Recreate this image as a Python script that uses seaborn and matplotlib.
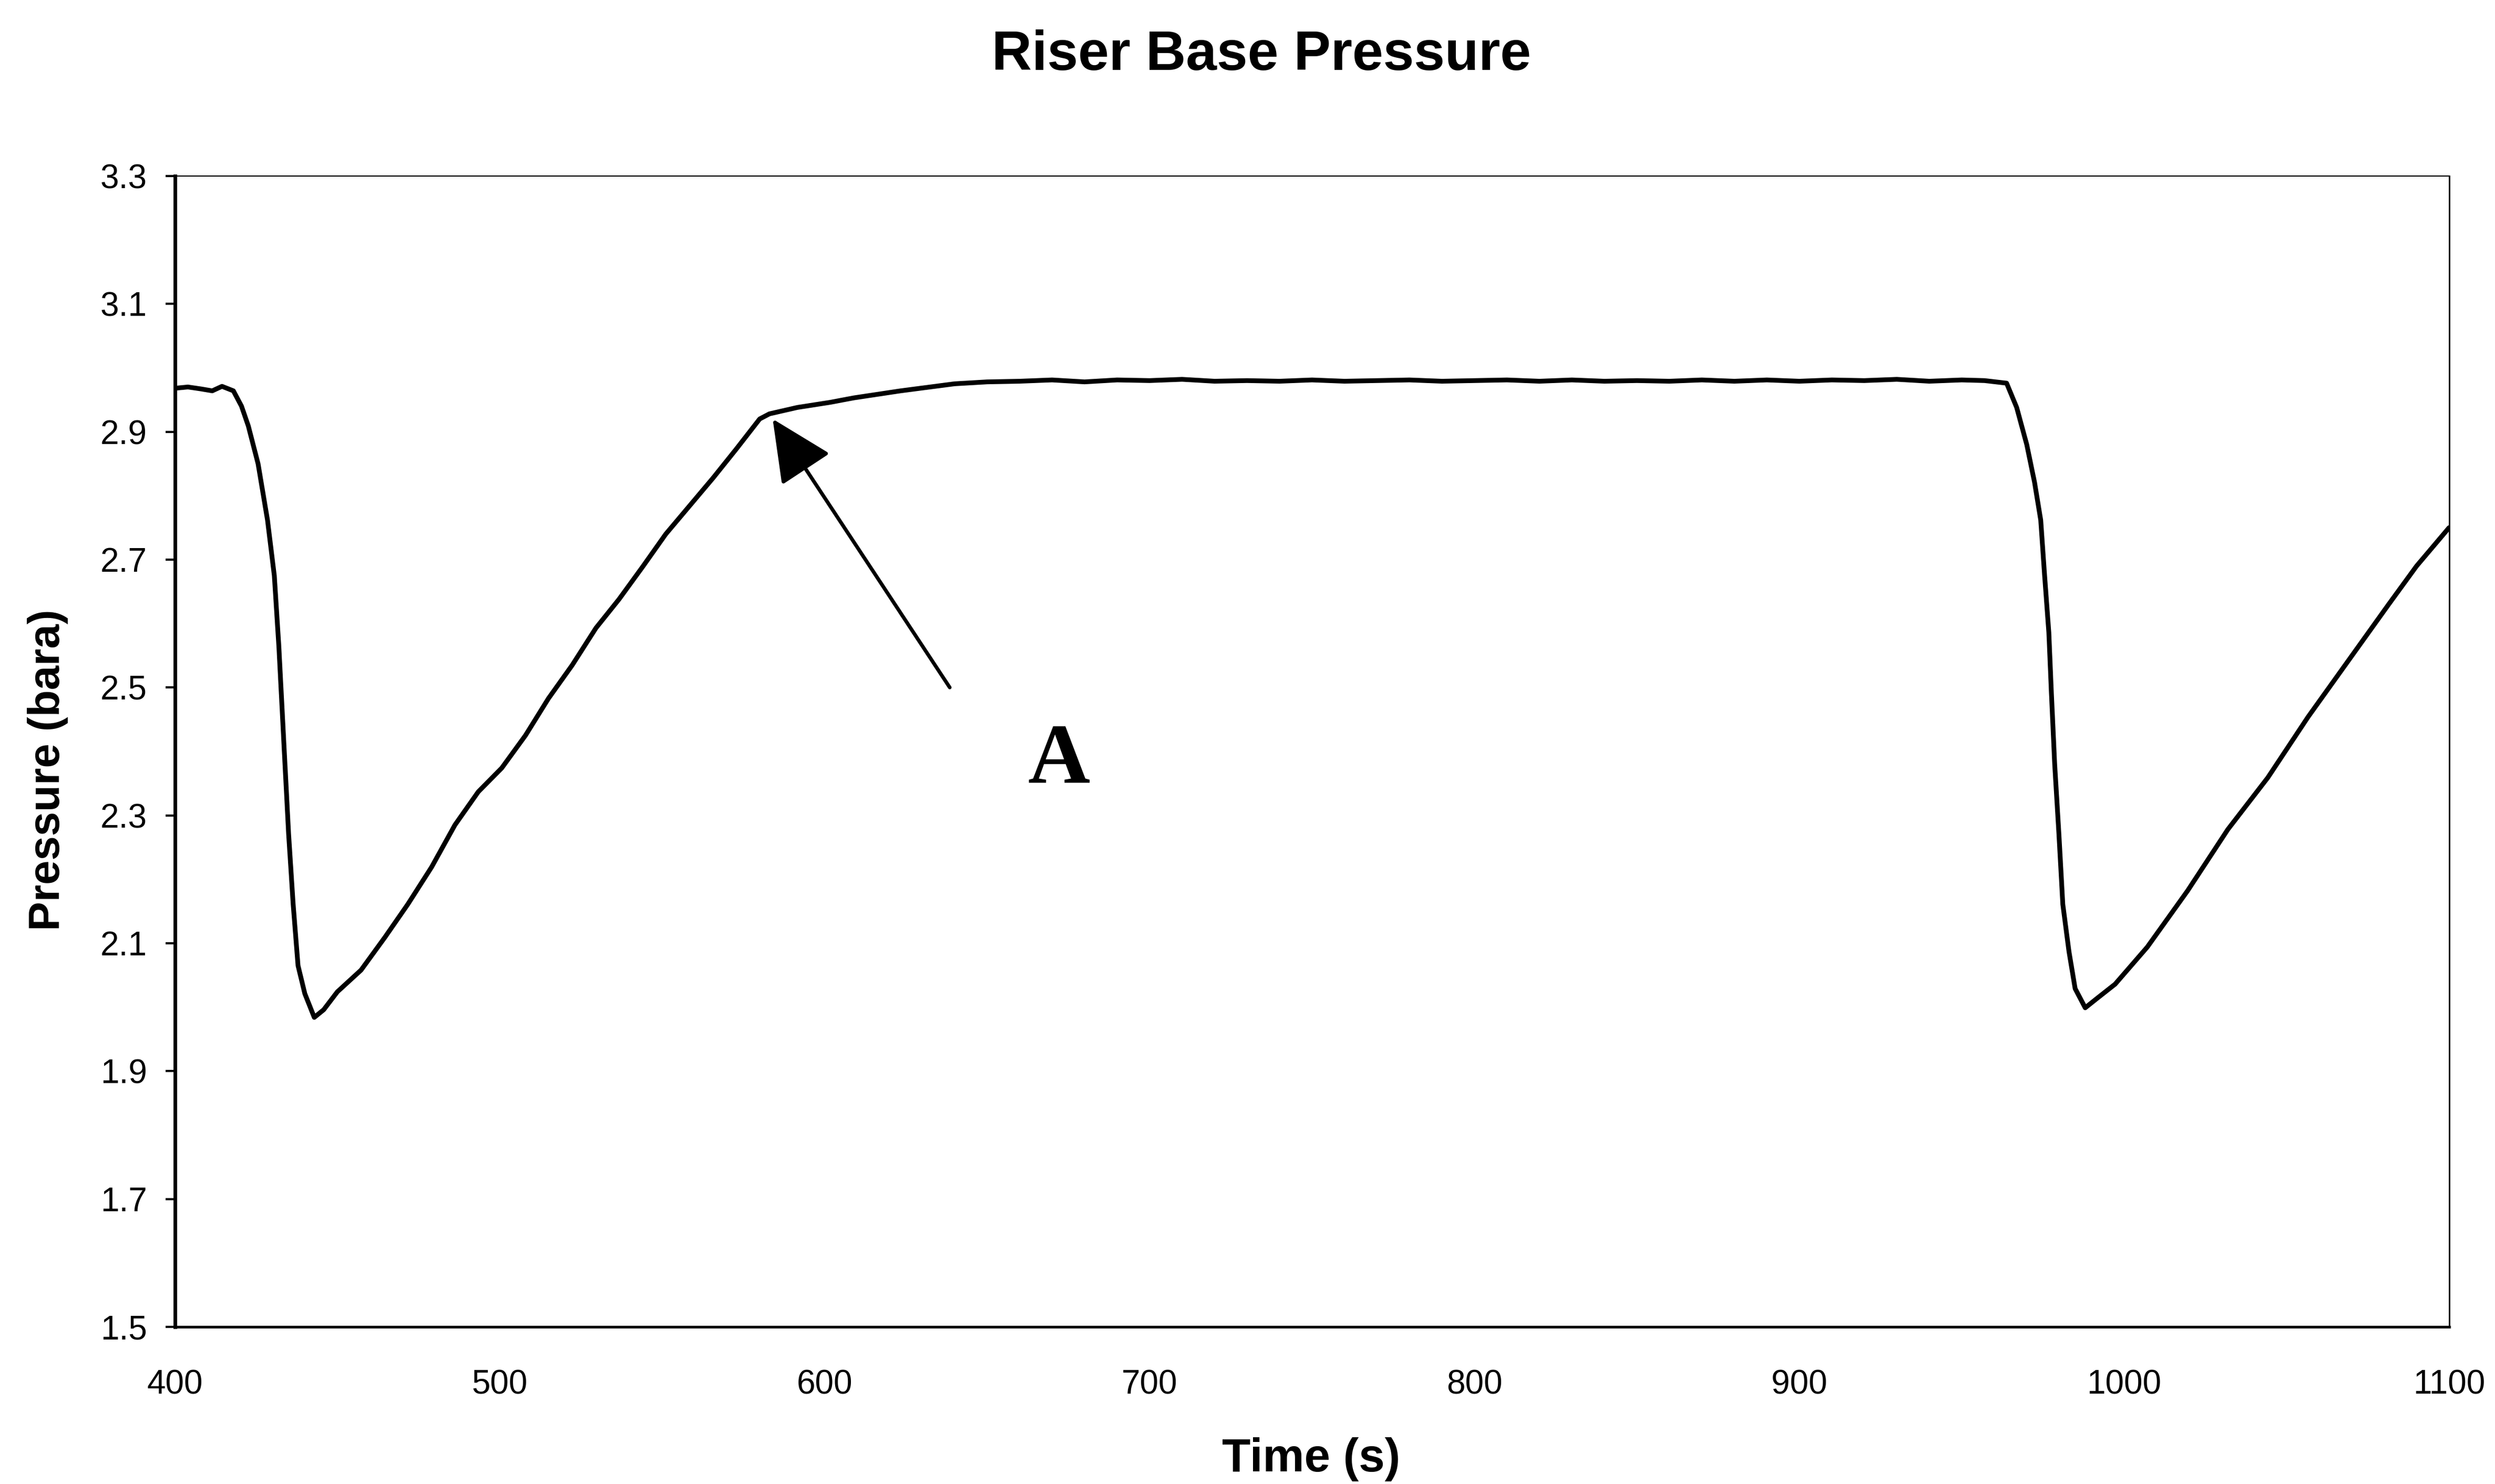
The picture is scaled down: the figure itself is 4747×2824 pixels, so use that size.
import numpy as np
import pandas as pd
import matplotlib
matplotlib.use("Agg")
import matplotlib.pyplot as plt
import seaborn as sns

# Riser base pressure record (time in s, pressure in bara)
time_s = [
    400, 404, 408, 411.5, 414.5, 418, 420.5, 422.6, 425.6, 428.5, 430.6, 432,
    433.5, 435, 436.4, 437.9, 440, 442.9, 445.8, 450, 457.3, 464.6, 471.7,
    479, 486.2, 493.4, 500.6, 507.9, 515, 522.3, 529.6, 536.7, 544, 551.1,
    558.4, 565.7, 572.8, 580, 583, 591.6, 601.7, 609, 623.4, 640, 650, 660,
    670, 680, 690, 700, 710, 720, 730, 740, 750, 760, 770, 780, 790, 800,
    810, 820, 830, 840, 850, 860, 870, 880, 890, 900, 910, 920, 930, 940,
    950, 957, 963.8, 966.9, 970, 972.4, 974.3, 975.5, 976.8, 977.6, 978.6,
    979.9, 981.1, 983, 984.9, 988, 991.7, 997.2, 1007.1, 1019.5, 1031.9,
    1044.2, 1056.6, 1069, 1081.4, 1090, 1100,
]
pressure_bara = [
    2.968, 2.970, 2.967, 2.964, 2.971, 2.964, 2.940, 2.909, 2.850, 2.762,
    2.675, 2.564, 2.417, 2.271, 2.161, 2.065, 2.021, 1.984, 1.996, 2.024,
    2.058, 2.109, 2.161, 2.219, 2.285, 2.337, 2.374, 2.425, 2.483, 2.535,
    2.593, 2.638, 2.689, 2.740, 2.784, 2.828, 2.873, 2.920, 2.928, 2.938,
    2.946, 2.953, 2.964, 2.975, 2.978, 2.979, 2.981, 2.978, 2.981, 2.980,
    2.982, 2.979, 2.980, 2.979, 2.981, 2.979, 2.980, 2.981, 2.979, 2.980,
    2.981, 2.979, 2.981, 2.979, 2.980, 2.979, 2.981, 2.979, 2.981, 2.979,
    2.981, 2.980, 2.982, 2.979, 2.981, 2.980, 2.976, 2.938, 2.880, 2.821,
    2.762, 2.675, 2.586, 2.490, 2.380, 2.271, 2.161, 2.087, 2.029, 1.999,
    2.014, 2.036, 2.094, 2.182, 2.278, 2.359, 2.454, 2.542, 2.630, 2.690,
    2.750,
]

x_ticks = [400, 500, 600, 700, 800, 900, 1000, 1100]
x_tick_labels = ["400", "500", "600", "700", "800", "900", "1000", "1100"]
y_ticks = [1.5, 1.7, 1.9, 2.1, 2.3, 2.5, 2.7, 2.9, 3.1, 3.3]
y_tick_labels = ["1.5", "1.7", "1.9", "2.1", "2.3", "2.5", "2.7", "2.9", "3.1", "3.3"]

title_text = "Riser Base Pressure"
x_label = "Time (s)"
y_label = "Pressure (bara)"
marker_label = "A"
marker_tip = (584.0, 2.920)
marker_tail = (638.5, 2.500)
marker_text_pos = (672.0, 2.351)

sns.set_theme(style="white")
plt.rcParams["font.family"] = ["Liberation Sans", "DejaVu Sans"]

df = pd.DataFrame({"time": time_s, "pressure": pressure_bara})

fig = plt.figure(figsize=(47.47, 28.24), dpi=100)
fig.patch.set_facecolor("white")
ax = fig.add_axes([0.0701, 0.1059, 0.9115, 0.7755])
ax.set_facecolor("white")

sns.lineplot(data=df, x="time", y="pressure", ax=ax, color="black",
             linewidth=6.5, estimator=None, sort=False)

ax.set_xlim(400, 1100)
ax.set_ylim(1.5, 3.3)
ax.set_xticks(x_ticks)
ax.set_xticklabels(x_tick_labels)
ax.set_yticks(y_ticks)
ax.set_yticklabels(y_tick_labels)
ax.set_xlabel("")
ax.set_ylabel("")

ax.tick_params(axis="x", length=0, pad=58, labelsize=46, colors="black")
ax.tick_params(axis="y", direction="out", length=13, width=3, pad=25,
               labelsize=46, colors="black", left=True)

for side, lw in (("left", 5.0), ("bottom", 3.6), ("top", 1.5), ("right", 2.0)):
    ax.spines[side].set_visible(True)
    ax.spines[side].set_color("black")
    ax.spines[side].set_linewidth(lw)

# Arrow pointing at the knee of the pressure build-up
ax.annotate("", xy=marker_tip, xytext=marker_tail,
            arrowprops=dict(arrowstyle="-|>,head_length=74,head_width=35",
                            mutation_scale=1, lw=5, color="black",
                            shrinkA=0, shrinkB=0))
ax.text(marker_text_pos[0], marker_text_pos[1], marker_label,
        family=["Liberation Serif", "DejaVu Serif"], fontweight="bold",
        fontsize=118, ha="center", va="baseline", color="black")

fig.text(0.5056, 0.9529, title_text, ha="center", va="baseline",
         fontsize=76, fontweight="bold", color="black")
fig.text(0.5256, 0.0085, x_label, ha="center", va="baseline",
         fontsize=64, fontweight="bold", color="black")
fig.text(0.0192, 0.4812, y_label, ha="center", va="center", rotation=90,
         fontsize=60, fontweight="bold", color="black")

fig.savefig("out.png", dpi=100, facecolor="white")
